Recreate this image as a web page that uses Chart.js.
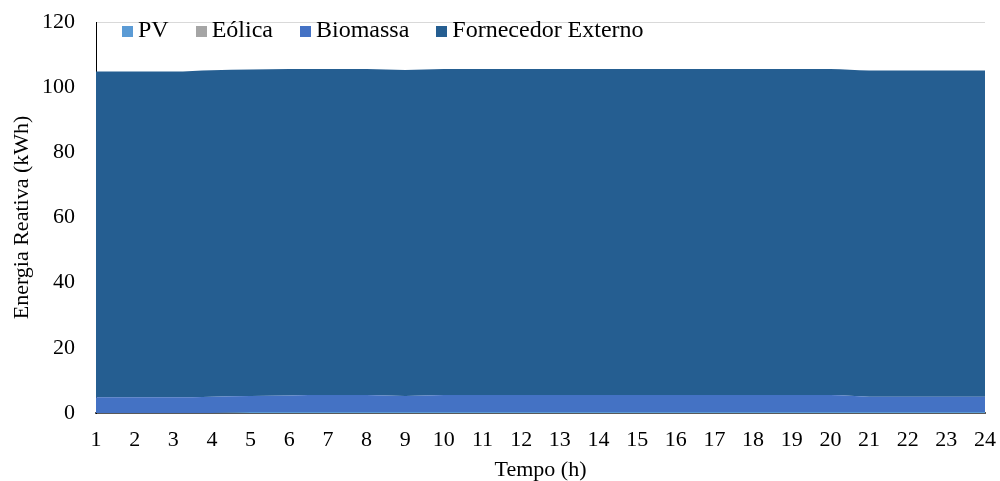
<!DOCTYPE html>
<html>
<head>
<meta charset="utf-8">
<script src="https://cdn.jsdelivr.net/npm/chart.js@4.4.0/dist/chart.umd.min.js"></script>
<style>
  html, body { margin: 0; padding: 0; background: #fff; }
  #wrap { position: relative; width: 1000px; height: 481px; }
  #legend { position: absolute; left: 122px; top: 17px; display: flex; font-family: "Liberation Serif", "Times New Roman", serif; font-size: 24px; line-height: 24px; color: #000; }
  .item { display: flex; align-items: flex-start; margin-right: 27px; white-space: nowrap; }
  .box { width: 11px; height: 11px; margin-top: 9px; margin-right: 5px; }
</style>
</head>
<body>
<div id="wrap">
  <canvas id="c" width="1000" height="481"></canvas>
  <div id="legend"></div>
</div>
<script>
const hours = ['1','2','3','4','5','6','7','8','9','10','11','12','13','14','15','16','17','18','19','20','21','22','23','24'];
const seriesNames = ['PV', 'Eólica', 'Biomassa', 'Fornecedor Externo'];
const seriesColors = ['#5B9BD5', '#A5A5A5', '#4472C4', '#255E91'];
const pv       = [0, 0, 0, 0, 0.3, 0.3, 0.3, 0.3, 0.3, 0.3, 0.3, 0.3, 0.3, 0.3, 0.3, 0.3, 0.3, 0.3, 0.3, 0.3, 0.3, 0.3, 0.3, 0.3];
const eolica   = [0, 0, 0, 0, 0, 0, 0, 0, 0, 0, 0, 0, 0, 0, 0, 0, 0, 0, 0, 0, 0, 0, 0, 0];
const biomassa = [4.8, 4.8, 4.8, 5.0, 4.9, 5.1, 5.2, 5.2, 4.9, 5.2, 5.2, 5.2, 5.2, 5.2, 5.2, 5.2, 5.2, 5.2, 5.2, 5.2, 4.7, 4.7, 4.7, 4.7];
const fornecedor = [100.0, 100.0, 100.0, 100.2, 100.2, 100.2, 100.1, 100.1, 100.1, 100.1, 100.1, 100.1, 100.1, 100.1, 100.1, 100.1, 100.1, 100.1, 100.1, 100.1, 100.1, 100.1, 100.1, 100.1];
const yTicks = [0, 20, 40, 60, 80, 100, 120];

const seriesData = [pv, eolica, biomassa, fornecedor];
const FONT = '"Liberation Serif", "Times New Roman", serif';

const datasets = seriesNames.map((name, i) => ({
  label: name,
  data: seriesData[i],
  backgroundColor: seriesColors[i],
  borderColor: seriesColors[i],
  borderWidth: 0,
  pointRadius: 0,
  fill: i === 0 ? 'origin' : '-1',
  cubicInterpolationMode: 'monotone'
}));

new Chart(document.getElementById('c'), {
  type: 'line',
  data: { labels: hours, datasets },
  options: {
    responsive: false,
    animation: false,
    events: [],
    layout: { padding: { top: 22, right: 15, left: 0, bottom: 0 } },
    plugins: { legend: { display: false }, tooltip: { enabled: false } },
    scales: {
      x: {
        type: 'category',
        offset: false,
        grid: { display: false, drawTicks: false },
        border: { display: true, color: '#595959', width: 2 },
        ticks: { color: '#000', font: { family: FONT, size: 22 }, padding: 14, maxRotation: 0, autoSkip: false },
        title: { display: true, text: 'Tempo (h)', color: '#000', font: { family: FONT, size: 22, lineHeight: 1 }, padding: { top: 0, bottom: 0 } },
        afterFit: s => { s.height = 68; s.paddingLeft = 0; s.paddingRight = 0; }
      },
      y: {
        stacked: true,
        min: 0,
        max: 120,
        afterBuildTicks: s => { s.ticks = yTicks.map(v => ({ value: v })); },
        grid: { color: '#D9D9D9', lineWidth: 1, drawTicks: false },
        border: { display: true, color: '#000', width: 1 },
        ticks: { color: '#000', font: { family: FONT, size: 22 }, padding: 21 },
        title: { display: true, text: 'Energia Reativa (kWh)', color: '#000', font: { family: FONT, size: 22, lineHeight: 1.2 }, padding: { top: 9, bottom: 0 } },
        afterFit: s => { s.width = 96; s.paddingTop = 0; s.paddingBottom = 0; }
      }
    }
  }
});

const legend = document.getElementById('legend');
seriesNames.forEach((name, i) => {
  const item = document.createElement('div');
  item.className = 'item';
  const box = document.createElement('span');
  box.className = 'box';
  box.style.background = seriesColors[i];
  const txt = document.createElement('span');
  txt.textContent = name;
  item.appendChild(box);
  item.appendChild(txt);
  legend.appendChild(item);
});
</script>
</body>
</html>
